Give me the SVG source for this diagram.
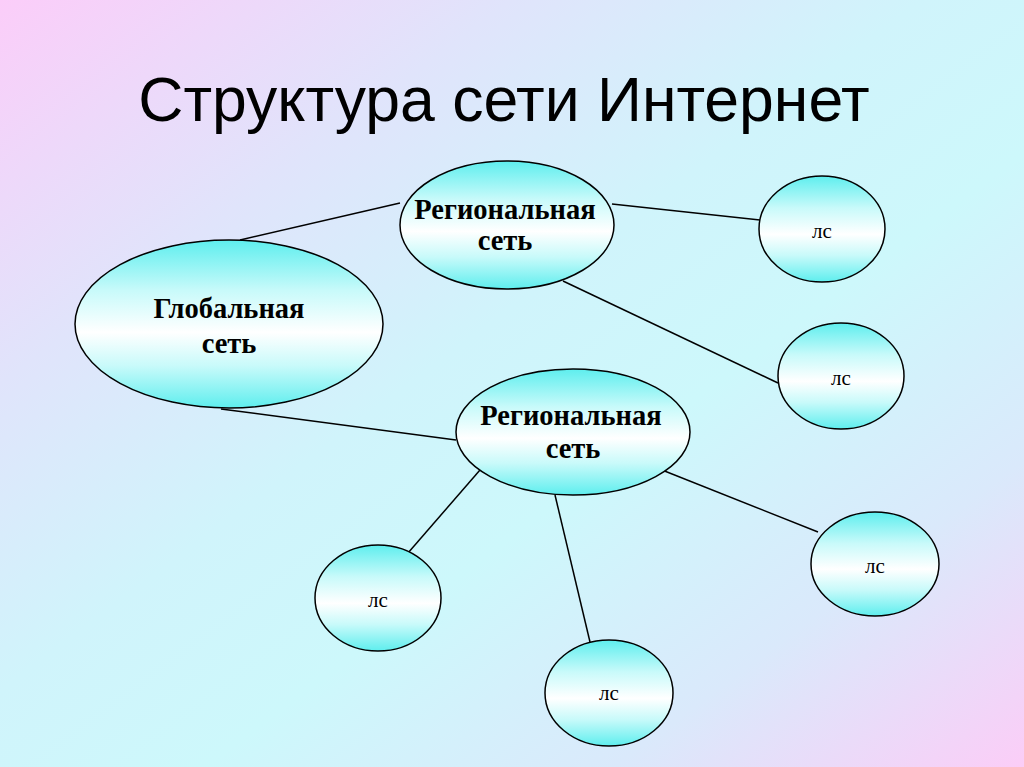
<svg xmlns="http://www.w3.org/2000/svg" width="1024" height="767" viewBox="0 0 1024 767">
<defs>
<linearGradient id="bg" x1="0" y1="0" x2="1" y2="1">
<stop offset="0" stop-color="#fbcdf9"/>
<stop offset="0.25" stop-color="#e0e4fb"/>
<stop offset="0.45" stop-color="#d0f4fb"/>
<stop offset="0.6" stop-color="#cdf8fb"/>
<stop offset="0.8" stop-color="#dae9fb"/>
<stop offset="1" stop-color="#fbcdf7"/>
</linearGradient>
<linearGradient id="nf" x1="0" y1="0" x2="0" y2="1">
<stop offset="0" stop-color="#5eeeee"/>
<stop offset="0.3" stop-color="#c8fafa"/>
<stop offset="0.55" stop-color="#ffffff"/>
<stop offset="0.75" stop-color="#c8fafa"/>
<stop offset="1" stop-color="#5eeeee"/>
</linearGradient>
<style>
.n{fill:url(#nf);stroke:#000;stroke-width:1.5}
.b{font-family:"Liberation Serif",serif;font-weight:bold;font-size:28.5px;text-anchor:middle;fill:#000}
.s{font-family:"Liberation Serif",serif;font-size:21px;text-anchor:middle;fill:#000}
.c line{stroke:#000;stroke-width:1.5}
</style>
</defs>
<rect width="1024" height="767" fill="url(#bg)"/>
<text x="504" y="121" font-family="Liberation Sans, Arial, sans-serif" font-size="62.5" text-anchor="middle" fill="#000">Структура сети Интернет</text>
<g class="c" id="connectors">
<line x1="240" y1="240" x2="400" y2="203"/>
<line x1="612" y1="204" x2="760" y2="220"/>
<line x1="563" y1="281" x2="778" y2="383"/>
<line x1="221" y1="409" x2="456" y2="440"/>
<line x1="657" y1="468" x2="818" y2="532"/>
<line x1="480" y1="470" x2="408" y2="553"/>
<line x1="555" y1="495" x2="590" y2="642"/>
</g>
<g id="global"><ellipse class="n" cx="229" cy="324" rx="154" ry="84"/><text class="b" x="229" y="318">Глобальная</text><text class="b" x="229" y="353">сеть</text></g>
<g id="region1"><ellipse class="n" cx="507" cy="225" rx="107" ry="64"/><text class="b" x="505" y="219">Региональная</text><text class="b" x="505" y="250">сеть</text></g>
<g id="region2"><ellipse class="n" cx="573" cy="432" rx="117" ry="63"/><text class="b" x="571" y="425">Региональная</text><text class="b" x="573" y="458">сеть</text></g>
<g id="ls1"><ellipse class="n" cx="822" cy="229" rx="63" ry="53"/><text class="s" x="822" y="238">лс</text></g>
<g id="ls2"><ellipse class="n" cx="841" cy="376" rx="63" ry="53"/><text class="s" x="841" y="385">лс</text></g>
<g id="ls3"><ellipse class="n" cx="875" cy="564" rx="64" ry="52"/><text class="s" x="875" y="573">лс</text></g>
<g id="ls4"><ellipse class="n" cx="378" cy="598" rx="63" ry="53"/><text class="s" x="378" y="607">лс</text></g>
<g id="ls5"><ellipse class="n" cx="609" cy="693" rx="64" ry="53"/><text class="s" x="609" y="700">лс</text></g>
</svg>
